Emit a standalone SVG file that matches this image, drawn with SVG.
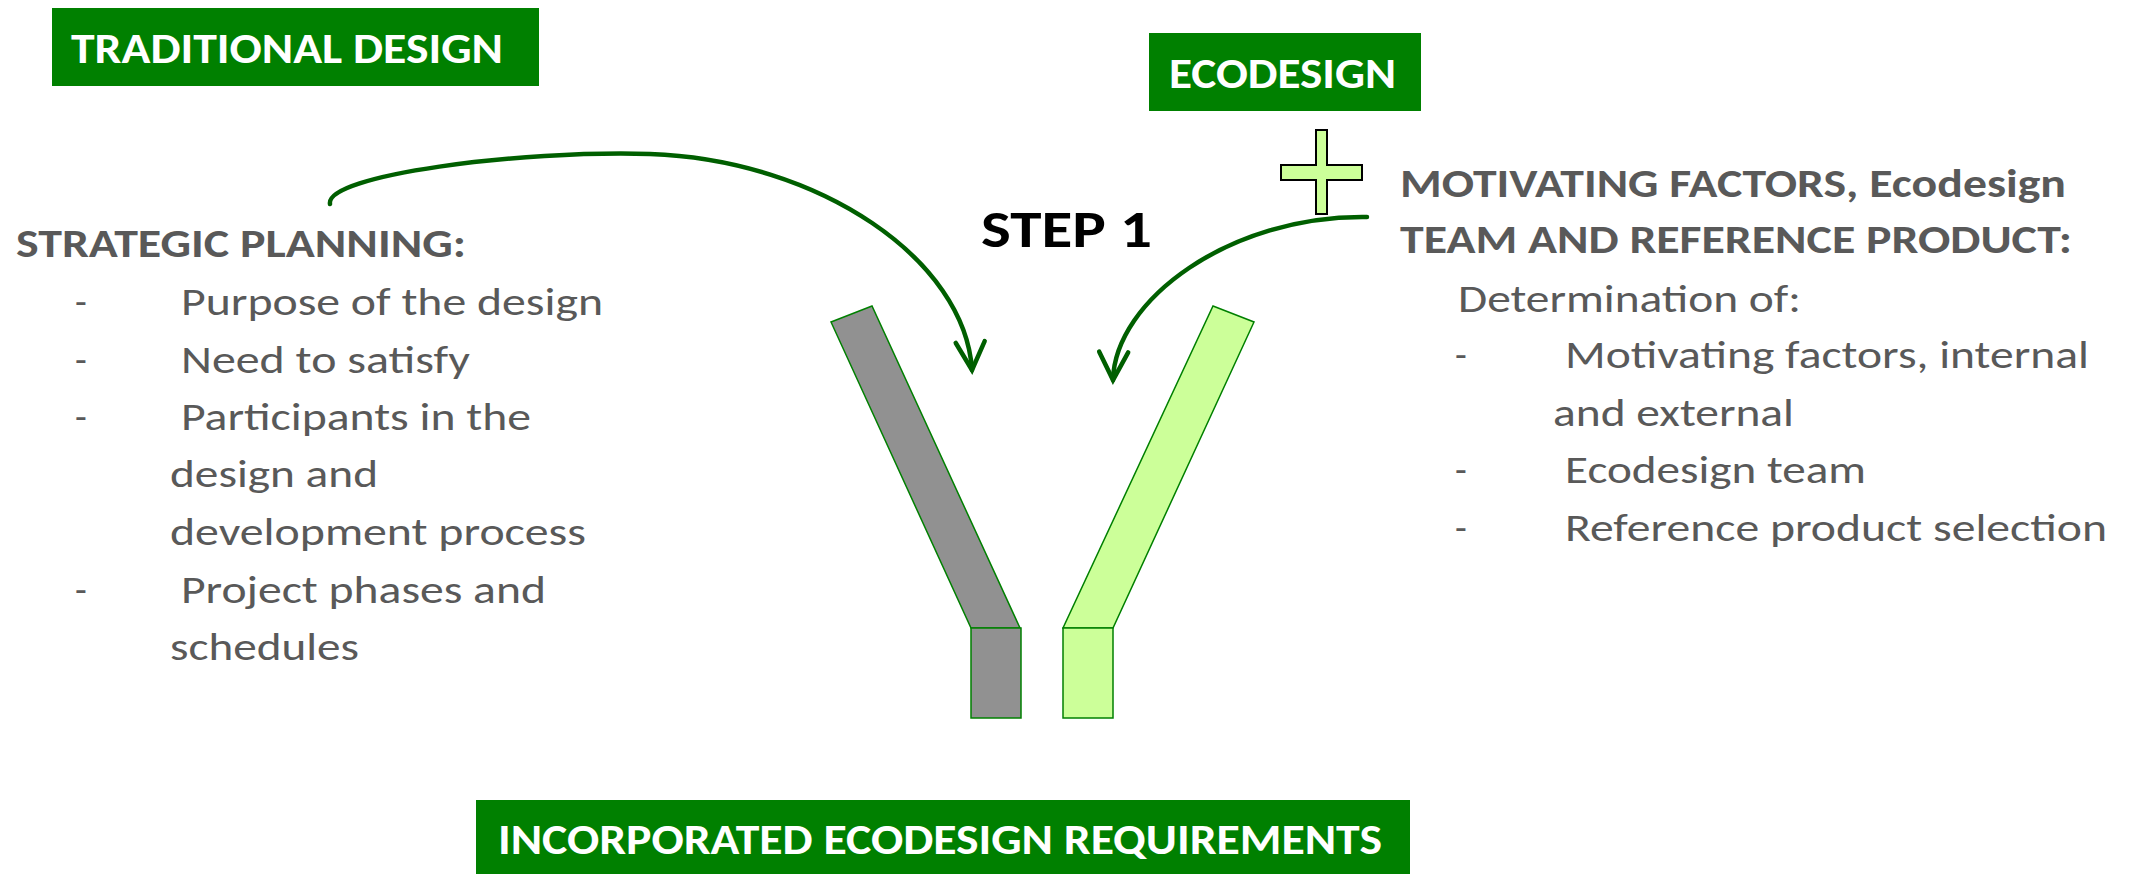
<svg xmlns="http://www.w3.org/2000/svg" width="2136" height="874" viewBox="0 0 2136 874">
<style>
.box{fill:#008000}
.boxt{fill:#ffffff;font-family:Carlito,Lato,"Liberation Sans",sans-serif;font-weight:bold;font-size:42px}
.hd{fill:#595959;font-family:Carlito,Lato,"Liberation Sans",sans-serif;font-weight:bold;font-size:40px}
.tx{fill:#595959;font-family:Carlito,Lato,"Liberation Sans",sans-serif;font-size:38.5px}
.step{fill:#000000;font-family:Carlito,Lato,"Liberation Sans",sans-serif;font-weight:bold;font-size:52px}
.conn{fill:none;stroke:#005f00;stroke-width:4.5;stroke-linecap:round}
.bar{stroke:#008000;stroke-width:1.5}
</style>
<defs>
<marker id="head" markerUnits="userSpaceOnUse" markerWidth="40" markerHeight="40" viewBox="-34 -20 40 40" refX="0" refY="0" orient="auto" overflow="visible">
<path d="M-28,-14.5 L0,0 L-28,14.5" fill="none" stroke="#005f00" stroke-width="4.5" stroke-linecap="round" stroke-linejoin="miter"/>
</marker>
</defs>

<g id="traditional-design">
<rect class="box" x="52" y="8" width="487" height="78"/>
<text class="boxt" x="71" y="63" textLength="432" lengthAdjust="spacingAndGlyphs">TRADITIONAL DESIGN</text>
</g>

<g id="ecodesign">
<rect class="box" x="1149" y="33" width="272" height="78"/>
<text class="boxt" x="1169" y="88" textLength="227" lengthAdjust="spacingAndGlyphs">ECODESIGN</text>
</g>

<g id="plus">
<polygon points="1316,130 1327,130 1327,165 1362,165 1362,180 1327,180 1327,214 1316,214 1316,180 1281,180 1281,165 1316,165" fill="#ccff99" stroke="#000000" stroke-width="2"/>
</g>

<g id="step1">
<text class="step" x="981" y="247" textLength="171" lengthAdjust="spacingAndGlyphs">STEP 1</text>
</g>

<g id="strategic-planning">
<text class="hd" x="16" y="257" textLength="450" lengthAdjust="spacingAndGlyphs">STRATEGIC PLANNING:</text>
<text class="tx" x="75" y="315">-</text>
<text class="tx" x="181" y="315" textLength="422" lengthAdjust="spacingAndGlyphs">Purpose of the design</text>
<text class="tx" x="75" y="373">-</text>
<text class="tx" x="181" y="373" textLength="289" lengthAdjust="spacingAndGlyphs">Need to satisfy</text>
<text class="tx" x="75" y="430">-</text>
<text class="tx" x="181" y="430" textLength="350" lengthAdjust="spacingAndGlyphs">Participants in the</text>
<text class="tx" x="170" y="487" textLength="208" lengthAdjust="spacingAndGlyphs">design and</text>
<text class="tx" x="170" y="545" textLength="416" lengthAdjust="spacingAndGlyphs">development process</text>
<text class="tx" x="75" y="603">-</text>
<text class="tx" x="181" y="603" textLength="365" lengthAdjust="spacingAndGlyphs">Project phases and</text>
<text class="tx" x="170" y="660" textLength="189" lengthAdjust="spacingAndGlyphs">schedules</text>
</g>

<g id="motivating-factors">
<text class="hd" x="1400" y="197" textLength="666" lengthAdjust="spacingAndGlyphs">MOTIVATING FACTORS, Ecodesign</text>
<text class="hd" x="1400" y="253" textLength="672" lengthAdjust="spacingAndGlyphs">TEAM AND REFERENCE PRODUCT:</text>
<text class="tx" x="1458" y="312" textLength="343" lengthAdjust="spacingAndGlyphs">Determination of:</text>
<text class="tx" x="1455" y="368">-</text>
<text class="tx" x="1565" y="368" textLength="524" lengthAdjust="spacingAndGlyphs">Motivating factors, internal</text>
<text class="tx" x="1553" y="426" textLength="241" lengthAdjust="spacingAndGlyphs">and external</text>
<text class="tx" x="1455" y="483">-</text>
<text class="tx" x="1565" y="483" textLength="301" lengthAdjust="spacingAndGlyphs">Ecodesign team</text>
<text class="tx" x="1455" y="541">-</text>
<text class="tx" x="1565" y="541" textLength="542" lengthAdjust="spacingAndGlyphs">Reference product selection</text>
</g>

<g id="traditional-channel">
<polygon class="bar" points="831,322 872,306 1020,628 971,628" fill="#919191"/>
<rect class="bar" x="971" y="628" width="50" height="90" fill="#919191"/>
</g>

<g id="ecodesign-channel">
<polygon class="bar" points="1213,306 1254,322 1113,628 1063,628" fill="#ccff99"/>
<rect class="bar" x="1063" y="628" width="50" height="90" fill="#ccff99"/>
</g>

<g id="incorporated-requirements">
<rect class="box" x="476" y="800" width="934" height="74"/>
<text class="boxt" x="498" y="854" textLength="884" lengthAdjust="spacingAndGlyphs">INCORPORATED ECODESIGN REQUIREMENTS</text>
</g>

<g id="connectors">
<path class="conn" d="M330,204 C325,175 520,150 650,154 C820,160 965,260 972,370" marker-end="url(#head)"/>
<path class="conn" d="M1367,217 C1230,215 1115,300 1113,380" marker-end="url(#head)"/>
</g>
</svg>
